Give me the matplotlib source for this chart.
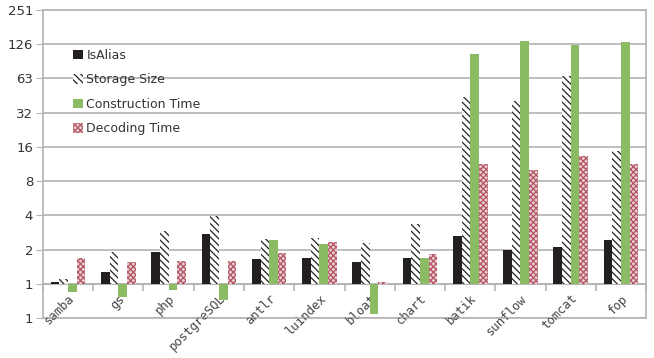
import numpy as np
import matplotlib
matplotlib.use('Agg')
import matplotlib.pyplot as plt

plt.rcParams['hatch.linewidth'] = 0.9

categories = ['samba', 'gs', 'php', 'postgreSQL', 'antlr', 'luindex',
              'bloat', 'chart', 'batik', 'sunflow', 'tomcat', 'fop']
is_alias = [1.04, 1.26, 1.89, 2.72, 1.64, 1.67, 1.57, 1.67, 2.61, 2.0, 2.09, 2.41]
storage_size = [1.11, 1.92, 2.93, 3.97, 2.47, 2.52, 2.28, 3.35, 43.6, 40.2, 67.3, 14.6]
construction_time = [0.855, 0.76, 0.89, 0.72, 2.41, 2.22, 0.54, 1.70, 104, 138, 125, 133]
decoding_time = [1.67, 1.56, 1.60, 1.60, 1.87, 2.31, 1.04, 1.84, 11.4, 10.1, 13.4, 11.4]

ytick_vals = [0.5, 1, 2, 4, 8, 16, 32, 64, 128, 256]
ytick_labels = ['1', '1', '2', '4', '8', '16', '32', '63', '126', '251']

grid_c = '#b3b3b3'
text_c = '#333333'

fig = plt.figure(figsize=(6.54, 3.58), dpi=100)
ax = fig.add_axes([0.0657, 0.1117, 0.9223, 0.8603])

x = np.arange(len(categories))
w = 0.172
base = 1.0

series = [
    (is_alias, 'IsAlias', dict(color='#231f20')),
    (storage_size, 'Storage Size', dict(facecolor='white', edgecolor='#222222', hatch='\\' * 5, linewidth=0)),
    (construction_time, 'Construction Time', dict(color='#8cbb65')),
    (decoding_time, 'Decoding Time', dict(facecolor='#ecd0d0', edgecolor='#b25566', hatch='x' * 6, linewidth=0)),
]
for i, (vals, name, style) in enumerate(series):
    v = np.array(vals)
    ax.bar(x + (i - 1.5) * w, v - base, bottom=base, width=w, label=name, zorder=3, **style)

ax.set_yscale('log')
ax.set_ylim(0.5, 256)
ax.set_xlim(-0.5, len(categories) - 0.5)
ax.set_yticks(ytick_vals)
ax.set_yticklabels(ytick_labels)
ax.yaxis.set_minor_locator(matplotlib.ticker.NullLocator())
ax.grid(axis='y', color=grid_c, linewidth=1.2, zorder=0)
ax.tick_params(axis='y', length=5, color=grid_c, labelsize=9.5, labelcolor=text_c, pad=2)

# x axis sits on the value 1 line
ax.spines['bottom'].set_position(('data', 1))
for s in ax.spines.values():
    s.set_color(grid_c)
    s.set_linewidth(1.2)
ax.axhline(0.5, color=grid_c, linewidth=1.2, zorder=1, clip_on=False)

ax.set_xticks(x)
ax.set_xticklabels(categories, rotation=45, ha='right', rotation_mode='anchor',
                   family='DejaVu Sans Mono', fontsize=8.8, color='#444444')
ax.tick_params(axis='x', which='major', length=0, pad=6)
ax.set_xticks(np.arange(-0.5, len(categories) + 0.5, 1), minor=True)
ax.tick_params(axis='x', which='minor', length=5, color=grid_c, width=1.2)

leg = ax.legend(loc='upper left', bbox_to_anchor=(0.042, 0.89), frameon=False,
                fontsize=9, labelspacing=0.92, handlelength=0.75, handleheight=0.75,
                handletextpad=0.3, borderaxespad=0)
for t in leg.get_texts():
    t.set_color(text_c)

fig.savefig('out.png', dpi=100)
